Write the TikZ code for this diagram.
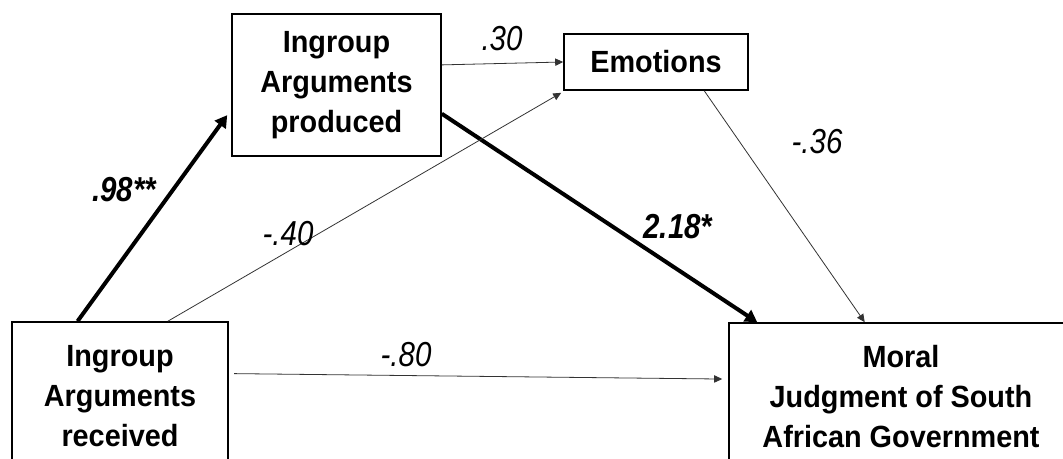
\documentclass[tikz,border=0pt]{standalone}
\usepackage{fontspec}
\setmainfont{Liberation Sans}
\newfontfamily\boxfont[FakeStretch=0.94]{Liberation Sans}
\newfontfamily\coeffont[FakeStretch=0.85]{Liberation Sans}
\usepackage{tikz}
\usetikzlibrary{calc, arrows.meta}

\begin{document}
\begin{tikzpicture}[
    x=0.75pt, y=-0.75pt,
    box/.style={draw, line width=1.2pt, align=center, inner sep=0pt, font=\boxfont\bfseries\fontsize{23}{30}\selectfont},
    weak/.style={-{Triangle[length=6pt, width=5.5pt]}, line width=0.6pt, draw=black!80},
    strong/.style={-{Triangle[length=9pt, width=10pt]}, line width=3pt},
    coef/.style={font=\coeffont\itshape\fontsize{26}{26}\selectfont},
  ]
  \useasboundingbox (0,0) rectangle (1063,459);
  \clip (0,0) rectangle (1063,459);
  % boxes
  \node[box, minimum width=156.75pt, minimum height=106.5pt] (produced) at (336.5,85) {Ingroup\\Arguments\\produced};
  \node[box, minimum width=138pt, minimum height=42pt] (emotions) at (656,62) {Emotions};
  \node[box, minimum width=162pt, minimum height=111pt] (received) at (120,396) {Ingroup\\Arguments\\received};
  \node[box, minimum width=258pt, minimum height=111pt] (moral) at (901,397) {Moral\\Judgment of South\\African Government};
  % paths
  \draw[strong] ($(received.north west)!0.305!(received.north east)$) -- ($(produced.north west)!0.71!(produced.south west)+(-4,0)$);
  \draw[strong] ($(produced.north east)!0.70!(produced.south east)$) -- ($(moral.north west)!0.084!(moral.north east)$);
  \draw[weak] ($(produced.north east)!0.36!(produced.south east)$) -- (emotions.west);
  \draw[weak] ($(received.north west)!0.72!(received.north east)$) -- ($(emotions.south west)+(-2,2)$);
  \draw[weak] ($(emotions.south west)!0.76!(emotions.south east)$) -- ($(moral.north west)!0.395!(moral.north east)$);
  \draw[weak, shorten <=4pt] ($(received.north east)!0.35!(received.south east)$) -- ($(moral.north west)!0.38!(moral.south west)+(-6,0)$);
  % coefficients
  \node[coef, font=\coeffont\bfseries\itshape\fontsize{26}{26}\selectfont] (c98) at (124,190) {.98**};
  \node[coef, font=\coeffont\bfseries\itshape\fontsize{26}{26}\selectfont] (c218) at (678,227) {2.18*};
  \foreach \n/\x/\y/\t in {c30/502/39/.30, c40/288/234/-.40, c36/817/142/-.36, c80/406/355/-.80} {
    \node[coef] (\n) at (\x,\y) {\t};
  }
\end{tikzpicture}
\end{document}
